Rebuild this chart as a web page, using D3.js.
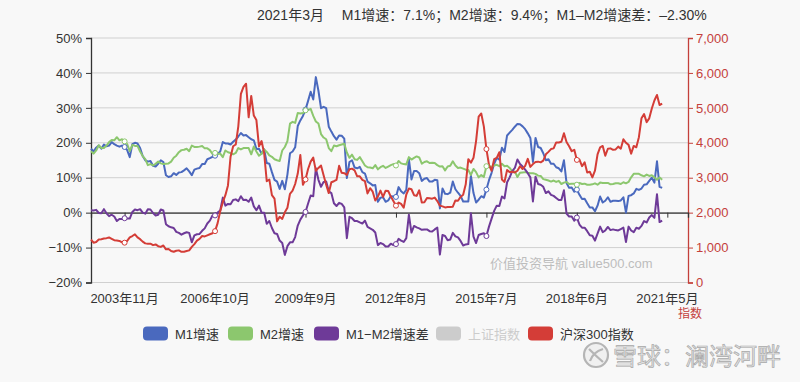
<!DOCTYPE html>
<html><head><meta charset="utf-8">
<script src="https://cdn.jsdelivr.net/npm/d3@7/dist/d3.min.js"></script>
<style>
html,body{margin:0;padding:0;background:#f8f8f8;}
svg{display:block;font-family:"Liberation Sans","Noto Sans CJK SC",sans-serif;}
</style></head><body>
<svg id="chart" width="800" height="382"></svg>
<script>
// Categories: monthly from 2002-10 to 2022-01 (axis extent)
const firstYear = 2002, firstMonth = 10, monthCount = 232;
const months = [];
for (let i = 0; i < monthCount; i++) {
  const t = firstMonth - 1 + i;
  months.push((firstYear + Math.floor(t / 12)) + "年" + (t % 12 + 1) + "月");
}
const tickLabels = ["2003年11月","2006年10月","2009年9月","2012年8月","2015年7月","2018年6月","2021年5月"];
const leftTicks = [50,40,30,20,10,0,-10,-20];
const rightTicks = [7000,6000,5000,4000,3000,2000,1000,0];

const m1 = [18.3,17.5,18.6,
19.2,18.3,19.5,19.0,19.2,20.2,19.6,19.2,18.9,19.2,18.8,17.9,
15.9,19.6,20.0,19.8,18.5,16.2,15.0,14.6,14.8,13.4,13.2,14.0,
15.0,14.5,10.7,10.2,10.4,11.3,10.8,11.5,11.6,12.1,12.7,11.8,
10.7,12.3,12.6,12.8,13.9,13.9,15.3,15.6,16.0,16.3,16.8,17.5,
20.2,19.8,19.8,19.5,20.3,20.9,21.8,22.8,22.1,22.2,21.6,21.0,
20.7,18.2,18.3,16.9,18.1,14.2,14.0,11.6,9.4,8.9,6.8,9.1,
6.7,10.9,17.0,17.5,18.7,24.8,26.4,27.7,29.5,32.0,34.6,32.4,
38.8,34.9,29.9,30.3,29.9,24.6,23.2,21.9,20.9,22.1,22.0,21.2,
9.9,14.5,15.0,12.9,12.7,13.1,11.6,11.2,8.9,8.4,7.8,7.9,
3.1,4.3,4.4,3.1,3.5,4.7,4.6,4.5,7.3,6.1,5.5,6.5,
15.3,9.5,11.9,11.9,11.3,9.1,9.7,9.9,8.9,8.9,9.4,9.3,
1.2,6.9,5.4,5.3,5.7,8.9,6.7,5.7,4.8,3.2,3.2,3.2,
10.6,5.6,2.9,3.7,4.7,4.3,6.6,9.3,11.4,14.0,15.7,15.2,
18.6,17.4,22.1,22.9,23.7,24.6,25.4,25.3,24.7,23.9,22.7,21.4,
14.5,21.4,18.8,18.5,17.0,15.0,15.3,14.0,14.0,13.0,12.7,11.8,
15.0,8.5,7.1,7.2,6.0,6.6,5.1,3.9,4.0,2.7,1.5,1.5,
0.4,2.0,4.6,2.9,3.4,4.4,3.1,3.4,3.4,3.3,3.5,4.4,
0.0,4.8,5.0,5.5,6.8,6.5,6.9,8.0,8.1,9.1,10.0,8.6,
14.7,7.4,7.1];

const m2 = [17.6,16.9,17.8,
19.3,18.5,18.5,19.2,20.2,20.8,20.7,21.6,20.7,21.0,20.4,19.6,
17.6,19.4,19.1,19.1,17.5,16.2,15.3,13.6,13.9,13.5,14.0,14.6,
14.1,13.9,14.0,14.1,14.6,15.7,16.3,17.3,17.9,18.0,18.3,17.6,
19.2,18.8,18.8,18.9,19.1,18.4,18.4,17.9,16.8,17.1,16.8,16.9,
15.9,17.8,17.3,17.1,16.7,17.1,18.5,18.1,18.5,18.5,18.5,16.7,
18.9,17.5,16.3,16.9,18.1,17.4,16.4,16.0,15.3,15.0,14.8,17.8,
18.8,20.5,25.5,26.0,25.7,28.5,28.4,28.5,29.3,29.4,29.7,27.7,
26.1,25.5,22.5,21.5,21.0,18.5,17.6,19.2,19.0,19.3,19.5,19.7,
17.2,15.7,16.6,15.3,15.1,15.9,14.7,13.5,13.0,12.9,12.7,13.6,
12.4,13.0,13.4,12.8,13.2,13.6,13.9,13.5,14.8,14.1,13.9,13.8,
15.9,15.2,15.7,16.1,15.8,14.0,14.5,14.7,14.2,14.3,14.2,13.6,
13.2,13.3,12.1,13.2,13.4,14.7,13.5,12.8,12.9,12.6,12.3,12.2,
10.8,12.5,11.6,10.1,10.8,10.2,13.3,13.3,13.1,13.5,13.7,13.3,
14.0,13.3,13.4,12.8,11.8,11.8,10.2,11.4,11.5,11.6,11.4,11.3,
11.3,11.1,10.6,10.5,9.6,9.4,9.2,8.9,9.2,8.8,9.1,8.2,
8.6,8.8,8.2,8.3,8.3,8.0,8.5,8.2,8.3,8.0,8.0,8.1,
8.4,8.0,8.6,8.5,8.5,8.5,8.1,8.2,8.4,8.4,8.2,8.7,
8.4,8.8,10.1,11.1,11.1,11.1,10.7,10.4,10.9,10.5,10.7,10.1,
9.4,10.1,9.4];

const diff = [0.7,0.6,0.8,
-0.1,-0.2,1.0,-0.2,-1.0,-0.6,-1.1,-2.4,-1.8,-1.8,-1.6,-1.7,
-1.7,0.2,0.9,0.7,1.0,0.0,-0.3,1.0,0.9,-0.1,-0.8,-0.6,
0.9,0.6,-3.3,-3.9,-4.2,-4.4,-5.5,-5.8,-6.3,-5.9,-5.6,-5.8,
-8.5,-6.5,-6.2,-6.1,-5.2,-4.5,-3.1,-2.3,-0.8,-0.8,0.0,0.6,
4.3,2.0,2.5,2.4,3.6,3.8,3.3,4.7,3.6,3.7,3.1,4.3,
1.8,0.7,2.0,0.0,0.0,-3.2,-2.4,-4.4,-5.9,-6.1,-8.0,-8.7,
-12.1,-9.6,-8.5,-8.5,-7.0,-3.7,-2.0,-0.8,0.2,2.6,4.9,4.7,
12.7,9.4,7.4,8.8,8.9,6.1,5.6,2.7,1.9,2.8,2.5,1.5,
-7.3,-1.2,-1.6,-2.4,-2.4,-2.8,-3.1,-2.3,-4.1,-4.5,-4.9,-5.7,
-9.3,-8.7,-9.0,-9.7,-9.7,-8.9,-9.3,-9.0,-7.5,-8.0,-8.4,-7.3,
-0.6,-5.7,-3.8,-4.2,-4.5,-4.9,-4.8,-4.8,-5.3,-5.4,-4.8,-4.3,
-12.0,-6.4,-6.7,-7.9,-7.7,-5.8,-6.8,-7.1,-8.1,-9.4,-9.1,-9.0,
-0.2,-6.9,-8.7,-6.4,-6.1,-5.9,-6.7,-4.0,-1.7,0.5,2.0,1.9,
4.6,4.1,8.7,10.1,11.9,12.8,15.2,13.9,13.2,12.3,11.3,10.1,
3.2,10.3,8.2,8.0,7.4,5.6,6.1,5.1,4.8,4.2,3.6,3.6,
6.4,-0.3,-1.1,-1.1,-2.3,-1.4,-3.4,-4.3,-4.3,-5.3,-6.5,-6.6,
-8.0,-6.0,-4.0,-5.6,-5.1,-4.1,-5.0,-4.8,-5.0,-5.1,-4.7,-4.3,
-8.4,-4.0,-5.1,-5.6,-4.3,-4.6,-3.8,-2.4,-2.8,-1.4,-0.7,-1.5,
5.3,-2.7,-2.3];

const csi300 = [1230,1140,1160,
1230,1240,1260,1270,1290,1250,1210,1200,1190,1150,1140,1190,
1290,1330,1380,1290,1240,1170,1120,1110,1110,1070,1090,1040,
1020,1060,950,960,900,880,910,920,880,880,900,920,
1020,1100,1200,1250,1330,1320,1350,1380,1410,1470,1700,2040,
2300,2500,2780,3600,3900,3950,4470,5400,5600,5690,4730,5340,
4780,4650,3900,4050,3700,2900,2950,2500,2400,1750,1880,1820,
2010,2140,2540,2630,2820,3120,3650,2800,2950,3250,3460,3575,
3200,3280,3350,3070,2800,2560,2870,2900,2940,3340,3140,3130,
3080,3240,3260,3210,3040,3040,2940,2900,2550,2700,2600,2350,
2460,2630,2450,2630,2620,2460,2330,2200,2290,2250,2140,2520,
2690,2670,2500,2480,2640,2290,2300,2420,2410,2400,2430,2330,
2200,2180,2150,2160,2160,2170,2350,2340,2450,2510,2810,3530,
3430,3570,4050,4750,4840,4470,3820,3370,3200,3530,3570,3730,
2950,2880,3220,3160,3170,3150,3200,3330,3250,3340,3540,3310,
3390,3450,3460,3440,3490,3670,3740,3820,3840,4010,4010,4030,
4275,4020,3900,3760,3800,3510,3520,3330,3440,3150,3170,3010,
3200,3670,3870,3910,3630,3830,3840,3800,3810,3890,3830,4100,
4000,3940,3690,3910,3870,4160,4700,4820,4590,4700,4980,5210,
5370,5080,5120];

const seriesNames = ["M1增速","M2增速","M1−M2增速差","上证指数","沪深300指数"];
const seriesColors = ["#4a69be","#8cc76e","#6e3a98","#cccccc","#d43d37"];

const svg = d3.select("#chart");
const L = 91, R = 688, T = 38, B = 282.5;
const x = d3.scalePoint().domain(months).range([L, R]);
const yL = d3.scaleLinear().domain([-20, 50]).range([B, T]);
const yR = d3.scaleLinear().domain([0, 7000]).range([B, T]);
const axisRed = "#c4403b";

// title
svg.append("text").attr("x", 257).attr("y", 20).attr("font-size", 14).attr("fill", "#333")
  .text("2021年3月　 M1增速：7.1%；M2增速：9.4%；M1–M2增速差：–2.30%");

// grid
svg.append("g").selectAll("line").data(leftTicks).join("line")
  .attr("x1", L).attr("x2", R).attr("y1", d => yL(d)).attr("y2", d => yL(d))
  .attr("stroke", "#d0d0d0").attr("stroke-width", 1);

// left axis
const gl = svg.append("g").attr("transform", `translate(${L},0)`)
  .call(d3.axisLeft(yL).tickValues(leftTicks).tickSize(5).tickPadding(4).tickFormat(d => (d < 0 ? "−" + (-d) : d) + "%"));
gl.select(".domain").attr("stroke", "#333").attr("stroke-width", 1.3);
gl.selectAll(".tick line").attr("stroke", "#333");
gl.selectAll("text").attr("font-size", 13).attr("fill", "#333").attr("font-family", "Liberation Sans, sans-serif");

// right axis
const gr = svg.append("g").attr("transform", `translate(${R},0)`)
  .call(d3.axisRight(yR).tickValues(rightTicks).tickSize(5).tickPadding(3).tickFormat(d3.format(",")));
gr.select(".domain").attr("stroke", axisRed).attr("stroke-width", 1.3);
gr.selectAll(".tick line").attr("stroke", axisRed);
gr.selectAll("text").attr("font-size", 13).attr("fill", axisRed).attr("font-family", "Liberation Sans, sans-serif");
svg.append("text").attr("x", 690).attr("y", 318).attr("text-anchor", "middle")
  .attr("font-size", 12).attr("fill", axisRed).text("指数");

// x axis on zero line
const gx = svg.append("g").attr("transform", `translate(0,${yL(0)})`)
  .call(d3.axisBottom(x).tickValues(tickLabels).tickSize(5).tickFormat(""));
gx.select(".domain").attr("stroke", "#333").attr("stroke-width", 1.3);
gx.selectAll(".tick line").attr("stroke", "#333");
svg.append("g").selectAll("text").data(tickLabels).join("text")
  .attr("x", d => x(d)).attr("y", 303).attr("text-anchor", "middle")
  .attr("font-size", 13).attr("fill", "#333").text(d => d);

// watermark
svg.append("text").attr("x", 490).attr("y", 268).attr("font-size", 13).attr("fill", "#bdbdbd")
  .text("价值投资导航 value500.com");

// series
const series = [
  {vals: m1, y: yL, color: seriesColors[0]},
  {vals: m2, y: yL, color: seriesColors[1]},
  {vals: diff, y: yL, color: seriesColors[2]},
  {vals: csi300, y: yR, color: seriesColors[4]}
];
const symIdx = tickLabels.map(t => months.indexOf(t));
series.forEach(s => {
  const line = d3.line().x((d, i) => x(months[i])).y(d => s.y(d));
  svg.append("path").datum(s.vals).attr("d", line).attr("fill", "none")
    .attr("stroke", s.color).attr("stroke-width", 2).attr("stroke-linejoin", "round");
});
series.forEach(s => {
  svg.append("g").selectAll("circle").data(symIdx.filter(i => i < s.vals.length)).join("circle")
    .attr("cx", i => x(months[i])).attr("cy", i => s.y(s.vals[i])).attr("r", 2.5)
    .attr("fill", "#fff").attr("stroke", s.color).attr("stroke-width", 1);
});

// legend
const legendX = [143, 228, 314, 436, 528];
const lg = svg.append("g");
seriesNames.forEach((n, i) => {
  lg.append("rect").attr("x", legendX[i]).attr("y", 326.5).attr("width", 25).attr("height", 14)
    .attr("rx", 4).attr("fill", seriesColors[i]);
  lg.append("text").attr("x", legendX[i] + 32).attr("y", 338.5).attr("font-size", 13)
    .attr("fill", i === 3 ? "#cccccc" : "#333").text(n);
});

// logo watermark
const logo = svg.append("g");
logo.append("circle").attr("cx", 596).attr("cy", 355).attr("r", 12)
  .attr("fill", "#f0f0f0").attr("stroke", "#b5b5b5").attr("stroke-width", 2.2);
logo.append("path").attr("d", "M589,349 Q596,356 603,362 M603,349 Q593,352 590,361")
  .attr("fill", "none").attr("stroke", "#b5b5b5").attr("stroke-width", 2.2);
logo.append("text").attr("x", 613).attr("y", 365).attr("font-size", 24)
  .attr("font-family", "Noto Sans CJK SC, sans-serif")
  .attr("fill", "#e4e4e4").attr("stroke", "#a9a9a9").attr("stroke-width", 0.7)
  .text("雪球：澜湾河畔");
</script>
</body></html>
